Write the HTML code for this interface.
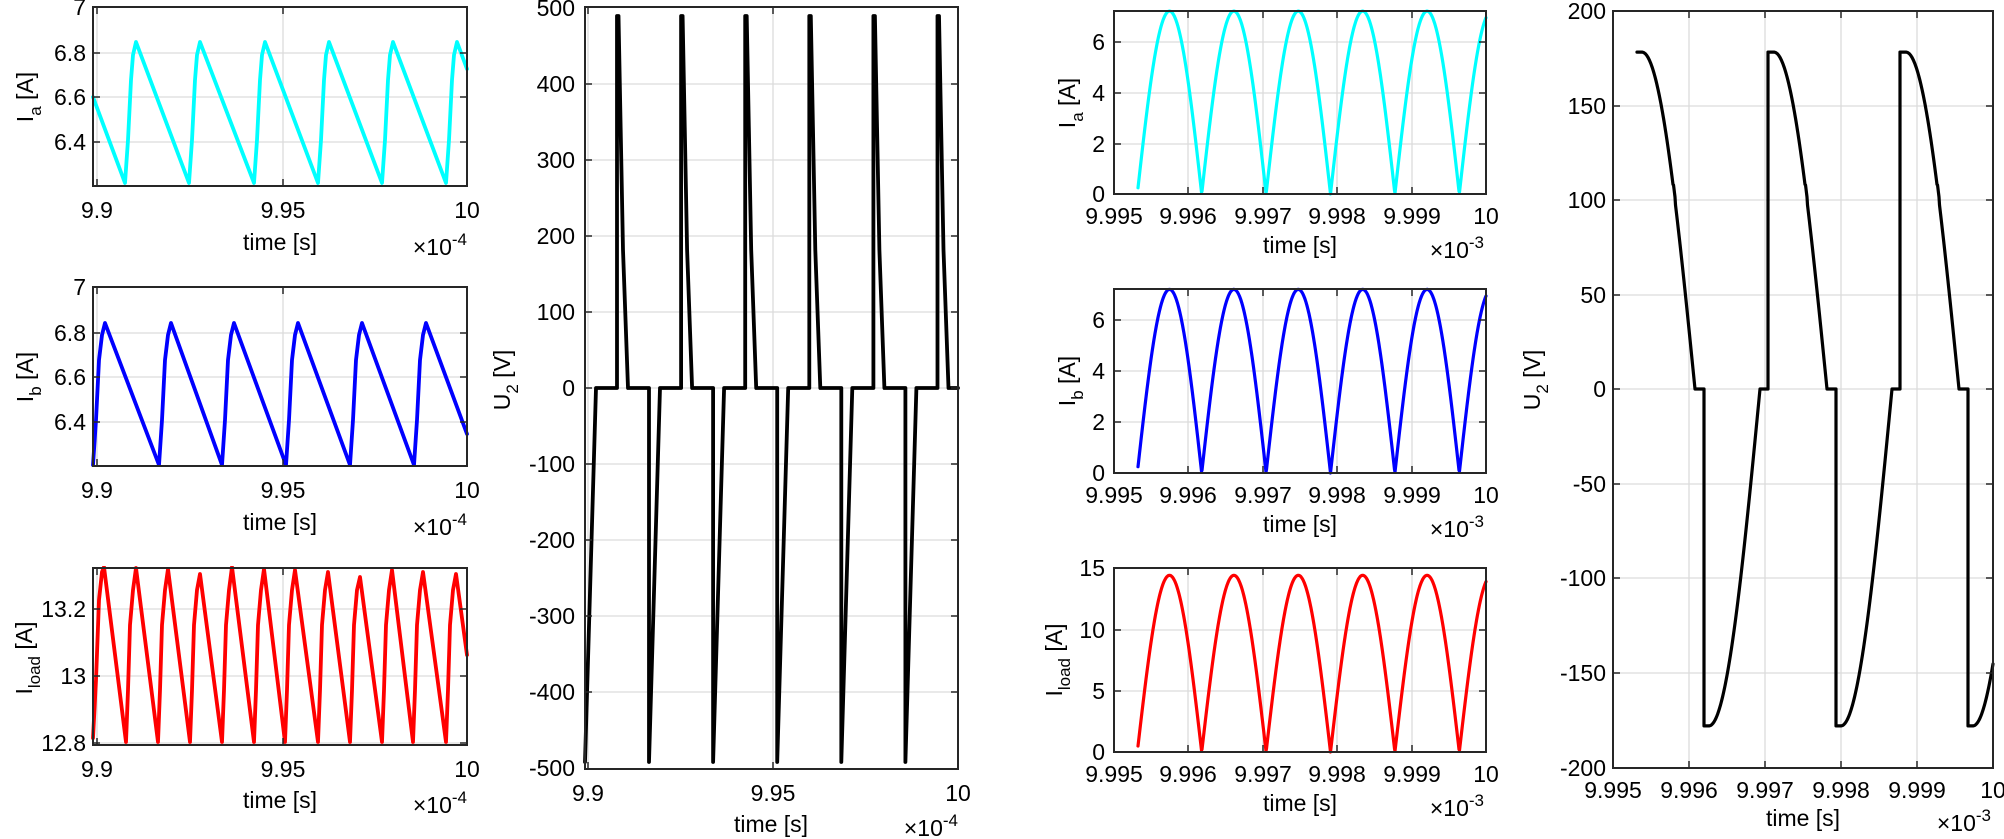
<!DOCTYPE html>
<html><head><meta charset="utf-8"><style>
html,body{margin:0;padding:0;background:#fff;}
svg{display:block;}
text{font-family:"Liberation Sans",Arial,sans-serif;font-size:23px;fill:#000;}
.yt{text-anchor:end;}
.xt{text-anchor:middle;}
.ex{text-anchor:end;}
</style></head><body>
<svg id="s" width="2004" height="839" viewBox="0 0 2004 839" xmlns="http://www.w3.org/2000/svg">
<g id="g"></g>
<g id="d"></g>
<g id="f"></g>
<text class="yt" x="86" y="15">7</text>
<text class="yt" x="86" y="61">6.8</text>
<text class="yt" x="86" y="105">6.6</text>
<text class="yt" x="86" y="150">6.4</text>
<text class="xt" x="97" y="218">9.9</text>
<text class="xt" x="283" y="218">9.95</text>
<text class="xt" x="467" y="218">10</text>
<text class="xt" x="280" y="250">time [s]</text>
<text class="ex" x="467" y="255">×10<tspan dy="-10" font-size="17">-4</tspan></text>
<text transform="translate(33,97) rotate(-90)" text-anchor="middle">I<tspan dy="8" font-size="17">a</tspan><tspan dy="-8"> [A]</tspan></text>
<text class="yt" x="86" y="295">7</text>
<text class="yt" x="86" y="341">6.8</text>
<text class="yt" x="86" y="385">6.6</text>
<text class="yt" x="86" y="430">6.4</text>
<text class="xt" x="97" y="498">9.9</text>
<text class="xt" x="283" y="498">9.95</text>
<text class="xt" x="467" y="498">10</text>
<text class="xt" x="280" y="530">time [s]</text>
<text class="ex" x="467" y="535">×10<tspan dy="-10" font-size="17">-4</tspan></text>
<text transform="translate(33,377) rotate(-90)" text-anchor="middle">I<tspan dy="8" font-size="17">b</tspan><tspan dy="-8"> [A]</tspan></text>
<text class="yt" x="86" y="617">13.2</text>
<text class="yt" x="86" y="684">13</text>
<text class="yt" x="86" y="751">12.8</text>
<text class="xt" x="97" y="777">9.9</text>
<text class="xt" x="283" y="777">9.95</text>
<text class="xt" x="467" y="777">10</text>
<text class="xt" x="280" y="808">time [s]</text>
<text class="ex" x="467" y="813">×10<tspan dy="-10" font-size="17">-4</tspan></text>
<text transform="translate(32,658) rotate(-90)" text-anchor="middle">I<tspan dy="8" font-size="17">load</tspan><tspan dy="-8"> [A]</tspan></text>
<text class="yt" x="575" y="16">500</text>
<text class="yt" x="575" y="92">400</text>
<text class="yt" x="575" y="168">300</text>
<text class="yt" x="575" y="244">200</text>
<text class="yt" x="575" y="320">100</text>
<text class="yt" x="575" y="396">0</text>
<text class="yt" x="575" y="472">-100</text>
<text class="yt" x="575" y="548">-200</text>
<text class="yt" x="575" y="624">-300</text>
<text class="yt" x="575" y="700">-400</text>
<text class="yt" x="575" y="776">-500</text>
<text class="xt" x="588" y="801">9.9</text>
<text class="xt" x="773" y="801">9.95</text>
<text class="xt" x="958" y="801">10</text>
<text class="xt" x="771" y="832">time [s]</text>
<text class="ex" x="958" y="836">×10<tspan dy="-10" font-size="17">-4</tspan></text>
<text transform="translate(510,380) rotate(-90)" text-anchor="middle">U<tspan dy="8" font-size="17">2</tspan><tspan dy="-8"> [V]</tspan></text>
<text class="yt" x="1105" y="202">0</text>
<text class="yt" x="1105" y="152">2</text>
<text class="yt" x="1105" y="101">4</text>
<text class="yt" x="1105" y="50">6</text>
<text class="xt" x="1114" y="224">9.995</text>
<text class="xt" x="1188" y="224">9.996</text>
<text class="xt" x="1263" y="224">9.997</text>
<text class="xt" x="1337" y="224">9.998</text>
<text class="xt" x="1412" y="224">9.999</text>
<text class="xt" x="1486" y="224">10</text>
<text class="xt" x="1300" y="253">time [s]</text>
<text class="ex" x="1484" y="258">×10<tspan dy="-10" font-size="17">-3</tspan></text>
<text transform="translate(1075,103) rotate(-90)" text-anchor="middle">I<tspan dy="8" font-size="17">a</tspan><tspan dy="-8"> [A]</tspan></text>
<text class="yt" x="1105" y="481">0</text>
<text class="yt" x="1105" y="430">2</text>
<text class="yt" x="1105" y="379">4</text>
<text class="yt" x="1105" y="328">6</text>
<text class="xt" x="1114" y="503">9.995</text>
<text class="xt" x="1188" y="503">9.996</text>
<text class="xt" x="1263" y="503">9.997</text>
<text class="xt" x="1337" y="503">9.998</text>
<text class="xt" x="1412" y="503">9.999</text>
<text class="xt" x="1486" y="503">10</text>
<text class="xt" x="1300" y="532">time [s]</text>
<text class="ex" x="1484" y="537">×10<tspan dy="-10" font-size="17">-3</tspan></text>
<text transform="translate(1075,381) rotate(-90)" text-anchor="middle">I<tspan dy="8" font-size="17">b</tspan><tspan dy="-8"> [A]</tspan></text>
<text class="yt" x="1105" y="760">0</text>
<text class="yt" x="1105" y="699">5</text>
<text class="yt" x="1105" y="638">10</text>
<text class="yt" x="1105" y="576">15</text>
<text class="xt" x="1114" y="782">9.995</text>
<text class="xt" x="1188" y="782">9.996</text>
<text class="xt" x="1263" y="782">9.997</text>
<text class="xt" x="1337" y="782">9.998</text>
<text class="xt" x="1412" y="782">9.999</text>
<text class="xt" x="1486" y="782">10</text>
<text class="xt" x="1300" y="811">time [s]</text>
<text class="ex" x="1484" y="816">×10<tspan dy="-10" font-size="17">-3</tspan></text>
<text transform="translate(1062,660) rotate(-90)" text-anchor="middle">I<tspan dy="8" font-size="17">load</tspan><tspan dy="-8"> [A]</tspan></text>
<text class="yt" x="1606" y="19">200</text>
<text class="yt" x="1606" y="114">150</text>
<text class="yt" x="1606" y="208">100</text>
<text class="yt" x="1606" y="303">50</text>
<text class="yt" x="1606" y="397">0</text>
<text class="yt" x="1606" y="492">-50</text>
<text class="yt" x="1606" y="586">-100</text>
<text class="yt" x="1606" y="681">-150</text>
<text class="yt" x="1606" y="776">-200</text>
<text class="xt" x="1613" y="798">9.995</text>
<text class="xt" x="1689" y="798">9.996</text>
<text class="xt" x="1765" y="798">9.997</text>
<text class="xt" x="1841" y="798">9.998</text>
<text class="xt" x="1917" y="798">9.999</text>
<text class="xt" x="1993" y="798">10</text>
<text class="xt" x="1803" y="826">time [s]</text>
<text class="ex" x="1991" y="831">×10<tspan dy="-10" font-size="17">-3</tspan></text>
<text transform="translate(1540,380) rotate(-90)" text-anchor="middle">U<tspan dy="8" font-size="17">2</tspan><tspan dy="-8"> [V]</tspan></text>
</svg>
<script>
(function(){
var NS="http://www.w3.org/2000/svg";
var G=document.getElementById("g"),D=document.getElementById("d"),F=document.getElementById("f");
function el(p,tag,a){var e=document.createElementNS(NS,tag);for(var k in a)e.setAttribute(k,a[k]);p.appendChild(e);return e;}
function axes(L,T,R,B,xs,ys){
  el(G,"rect",{x:L,y:T,width:R-L,height:B-T,fill:"#fff"});
  xs.forEach(function(x){el(G,"line",{x1:x,y1:T,x2:x,y2:B,stroke:"#dcdcdc","stroke-width":1.3});
    el(F,"line",{x1:x,y1:B,x2:x,y2:B-7,stroke:"#262626","stroke-width":1.5});
    el(F,"line",{x1:x,y1:T,x2:x,y2:T+7,stroke:"#262626","stroke-width":1.5});});
  ys.forEach(function(y){el(G,"line",{x1:L,y1:y,x2:R,y2:y,stroke:"#dcdcdc","stroke-width":1.3});
    el(F,"line",{x1:L,y1:y,x2:L+7,y2:y,stroke:"#262626","stroke-width":1.5});
    el(F,"line",{x1:R,y1:y,x2:R-7,y2:y,stroke:"#262626","stroke-width":1.5});});
  el(F,"rect",{x:L,y:T,width:R-L,height:B-T,fill:"none",stroke:"#262626","stroke-width":2});
}
function path(pts,col,w,clip){
  var d="M"+pts.map(function(p){return p[0].toFixed(1)+","+p[1].toFixed(1);}).join("L");
  var a={d:d,fill:"none",stroke:col,"stroke-width":w,"stroke-linejoin":"round","stroke-linecap":"round"};
  if(clip)a["clip-path"]="url(#"+clip+")";
  el(D,"path",a);
}
var defs=el(document.getElementById("s"),"defs",{});
function clip(id,L,T,R,B){var c=el(defs,"clipPath",{id:id});el(c,"rect",{x:L-2,y:T-2,width:R-L+4,height:B-T+4});}

axes(93,7,467,186,[97,283],[53,97,142]);
axes(93,287,467,466,[97,283],[333,377,422]);
axes(93,568,467,745,[97,283],[609,676,743]);
axes(585,7,958,769,[588,773],[84,160,236,312,388,464,540,616,692]);
var tx=[1188,1263,1337,1412];
axes(1114,11,1486,194,tx,[42,93,144]);
axes(1114,289,1486,473,tx,[320,371,422]);
axes(1114,568,1486,752,tx,[630,691]);
axes(1613,11,1993,768,[1689,1765,1841,1917],[106,200,295,389,484,578,673]);

clip("c1",93,7,467,186);clip("c2",93,287,467,466);clip("c3",93,568,467,745);
clip("c4",585,7,958,769);clip("c8",1613,11,1993,768);

var mins=[125,189,254,318,382,446];
var p=[[93,97]];
mins.forEach(function(m){p.push([m,183],[m+3,140],[m+6,80],[m+8,55],[m+11,42]);});
p.push([467,69]);
path(p,"#00ffff",3.8,"c1");
var minsb=[93,159,222,286,350,414];
p=[[93,465]];
minsb.forEach(function(m,i){ if(i>0)p.push([m,465]); p.push([m+3,420],[m+6,360],[m+9,335],[m+12,323]);});
p.push([467,434]);
path(p,"#0000ff",3.8,"c2");
var mL=[126,158,190,222,254,285,318,350,382,413,446];
var pk=[567,568,569,574,567,569,570,572,577,570,572,574];
p=[[93,738],[96,680],[99,600],[102,572],[104,pk[0]]];
mL.forEach(function(m,i){p.push([m,742],[m+2,690],[m+4,625],[m+7,590],[m+10,pk[i+1]]);});
p.push([467,655]);
path(p,"#ff0000",3.8,"c3");

p=[[585,762],[596,388]];
for(var b=617;b<958;b+=64.1){
  p.push([b,388],[b,16],[b+1.5,16],[b+6,250],[b+11,388]);
  if(b+32<958){p.push([b+32,388],[b+32,762],[b+43,388]);}else{p.push([958,388]);}
}
path(p,"#000",3.8,"c4");

function sines(B,sc,A,col){
  var q=[];
  for(var x=1138;x<=1486;x+=0.5){q.push([x,B-sc*A*Math.abs(Math.sin(Math.PI*(x-1137.3)/64.4))]);}
  path(q,col,3.2);
}
sines(194,25.4,7.2,"#00ffff");
sines(473,25.5,7.2,"#0000ff");
sines(752,12.27,14.4,"#ff0000");

var Y0=389,S=1.8925;
function yv(v){return Y0-v*S;}
p=[];
for(var k=0;k<3;k++){
  var o=k*132;
  var s=1637+o;
  if(k==0){p.push([s,yv(178)]);} else {p.push([1768+(k-1)*132,yv(0)],[1768+(k-1)*132,yv(178)]);}
  var a0=s+5, a1=1695+o;
  for(var x=a0;x<=a1;x+=0.5){var ang=(a1-x)/(a1-a0)*Math.PI/2;var v=178*Math.sin(ang);
    if(Math.abs(v-102)<4)v+=2; p.push([x,yv(v)]);}
  var dr=1704+o;
  if(dr>1993){p.push([1993,yv(0)]);break;}
  p.push([dr,yv(0)],[dr,yv(-178)]);
  var r0=dr+5,r1=1760+o;
  for(var x2=r0;x2<=r1&&x2<=1993;x2+=0.5){var ang2=(x2-r0)/(r1-r0)*Math.PI/2;p.push([x2,yv(-178*Math.cos(ang2))]);}
}
path(p,"#000",3.2,"c8");
})();
</script>
</body></html>
